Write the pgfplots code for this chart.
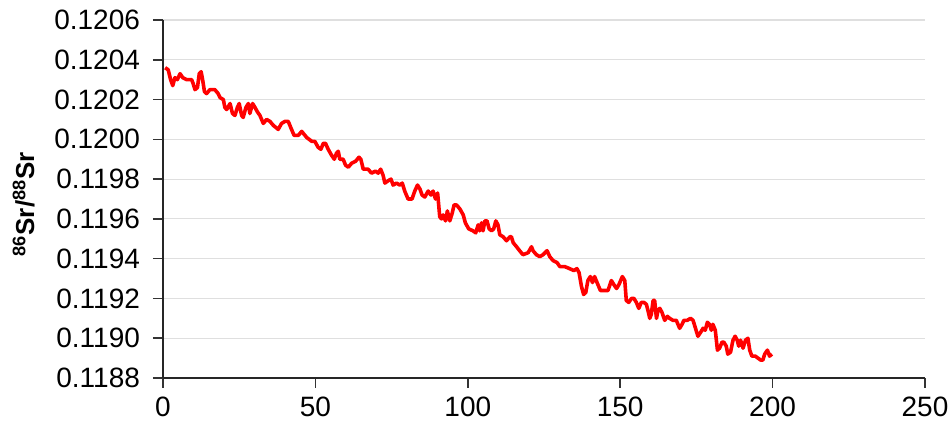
\documentclass[border=0pt]{standalone}
\usepackage{pgfplots}
\pgfplotsset{compat=1.18}
\usepackage{fontspec}
\setmainfont{Liberation Sans}
\begin{document}
\begin{tikzpicture}
\useasboundingbox (-81.5pt,-32.5pt) rectangle (394pt,189pt);
\begin{axis}[
  at={(0,0)}, anchor=south west,
  scale only axis, width=381pt, height=179pt,
  xmin=0, xmax=250, ymin=0.1188, ymax=0.1206,
  xtick={0,50,100,150,200,250},
  ytick={0.1188,0.1190,0.1192,0.1194,0.1196,0.1198,0.1200,0.1202,0.1204,0.1206},
  axis x line=bottom, axis y line=left,
  axis line style={-, black!85, line width=1.2pt},
  xtick align=outside, ytick align=outside, major tick length=5pt,
  every tick/.style={draw=black!80, line width=0.8pt},
  major tick style={draw=black!80, line width=0.8pt},
  ymajorgrids, grid style={gray!25, line width=0.6pt},
  scaled y ticks=false,
  /pgf/number format/assume math mode=true,
  ticklabel style={font=\fontsize{14}{16}\selectfont},
  yticklabel style={/pgf/number format/fixed, /pgf/number format/fixed zerofill, /pgf/number format/precision=4, xshift=-3pt},
  xticklabel style={yshift=-1pt},
  ylabel={\textsuperscript{86}Sr/\textsuperscript{88}Sr},
  ylabel style={font=\fontsize{13}{15}\selectfont\bfseries, at={(axis description cs:-0.183,0.485)}, anchor=center},
]
\addplot[red, line width=1.8pt, line join=round] table {
x y
0.7 0.12036
1.7 0.12035
2.5 0.12030
3.2 0.12027
3.9 0.12031
4.7 0.12030
5.6 0.12033
6.5 0.12031
7.8 0.12030
9.4 0.12030
9.9 0.12028
10.5 0.12025
11.3 0.12026
11.9 0.12033
12.5 0.12034
13.0 0.12030
13.6 0.12024
14.3 0.12023
15.4 0.12025
17.0 0.12025
18.1 0.12023
18.7 0.12021
19.8 0.12020
20.3 0.12016
20.9 0.12015
22.0 0.12018
22.8 0.12013
23.6 0.12012
24.4 0.12016
25.0 0.12018
25.8 0.12012
26.3 0.12011
27.2 0.12016
28.0 0.12018
28.5 0.12013
29.4 0.12018
30.2 0.12016
30.9 0.12014
31.8 0.12012
32.9 0.12008
34.0 0.12010
35.1 0.12009
36.2 0.12007
37.8 0.12005
38.9 0.12008
40.0 0.12009
41.1 0.12009
41.9 0.12006
43.0 0.12002
44.4 0.12002
45.5 0.12004
47.1 0.12001
48.8 0.11999
49.8 0.11999
50.9 0.11996
51.8 0.11995
52.6 0.11998
53.3 0.11998
54.2 0.11995
55.3 0.11992
56.2 0.11990
56.9 0.11993
57.5 0.11994
58.0 0.11990
59.1 0.11990
59.9 0.11987
60.8 0.11986
61.9 0.11988
63.2 0.11989
64.3 0.11991
64.9 0.11990
65.7 0.11985
67.3 0.11985
68.4 0.11983
69.7 0.11984
70.6 0.11983
71.4 0.11985
72.2 0.11982
72.8 0.11978
73.7 0.11979
74.8 0.11980
75.5 0.11977
76.6 0.11978
77.7 0.11977
78.5 0.11978
79.3 0.11974
80.4 0.11970
81.7 0.11970
82.6 0.11974
83.5 0.11977
84.3 0.11975
85.0 0.11972
85.9 0.11971
87.0 0.11974
87.9 0.11972
88.6 0.11974
89.4 0.11970
90.1 0.11973
90.8 0.11961
91.4 0.11960
91.9 0.11962
92.7 0.11959
93.3 0.11964
94.1 0.11959
94.9 0.11963
95.5 0.11967
96.3 0.11967
97.4 0.11965
98.5 0.11962
99.2 0.11958
100.3 0.11955
101.7 0.11954
102.6 0.11953
103.4 0.11957
103.9 0.11954
104.5 0.11958
105.0 0.11954
105.6 0.11959
106.3 0.11959
107.0 0.11955
107.8 0.11954
108.5 0.11955
109.2 0.11959
109.9 0.11957
110.5 0.11952
111.6 0.11951
112.7 0.11949
113.8 0.11951
114.3 0.11951
114.9 0.11948
116.0 0.11946
117.0 0.11944
118.1 0.11942
119.8 0.11943
120.9 0.11946
121.4 0.11944
122.5 0.11942
123.6 0.11941
124.7 0.11942
126.0 0.11944
126.9 0.11941
128.0 0.11939
129.3 0.11938
130.2 0.11936
131.8 0.11936
133.4 0.11935
134.8 0.11934
135.8 0.11935
136.5 0.11933
137.3 0.11926
138.0 0.11922
138.7 0.11923
139.4 0.11929
140.2 0.11931
140.9 0.11928
141.6 0.11931
142.4 0.11928
143.5 0.11924
144.9 0.11924
146.0 0.11924
147.1 0.11929
147.9 0.11927
148.8 0.11925
149.6 0.11927
150.7 0.11931
151.5 0.11929
152.0 0.11919
152.8 0.11918
153.7 0.11920
154.5 0.11920
155.3 0.11918
156.1 0.11915
156.9 0.11918
157.8 0.11918
158.6 0.11917
159.1 0.11914
159.7 0.11910
160.2 0.11912
160.8 0.11919
161.3 0.11919
161.9 0.11910
162.4 0.11914
163.0 0.11915
163.7 0.11913
164.6 0.11909
165.5 0.11911
166.2 0.11910
167.3 0.11909
168.4 0.11909
169.5 0.11905
170.3 0.11907
170.9 0.11909
172.0 0.11909
173.1 0.11910
173.9 0.11909
174.7 0.11905
175.5 0.11901
176.4 0.11903
177.2 0.11905
177.9 0.11904
178.6 0.11908
179.3 0.11907
179.9 0.11904
180.4 0.11907
181.2 0.11904
181.9 0.11894
182.6 0.11895
183.4 0.11898
184.0 0.11898
184.8 0.11896
185.3 0.11892
186.2 0.11893
187.0 0.11899
187.7 0.11901
188.4 0.11899
188.9 0.11896
189.5 0.11899
190.3 0.11895
191.1 0.11899
191.9 0.11900
192.5 0.11894
193.2 0.11891
194.3 0.11891
195.2 0.11890
196.1 0.11889
196.8 0.11889
197.4 0.11892
198.3 0.11894
199.0 0.11891
199.8 0.11892
};
\end{axis}
\end{tikzpicture}
\end{document}
